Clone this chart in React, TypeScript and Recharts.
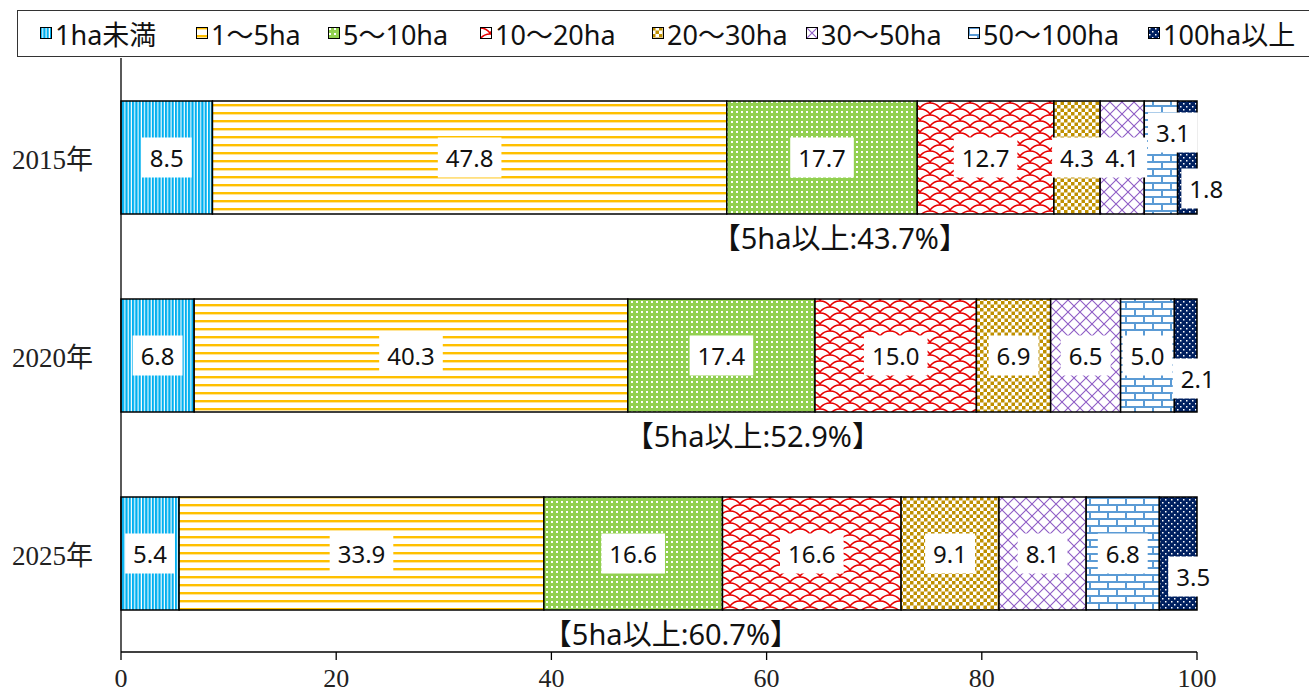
import React from 'react';
import { BarChart, Bar, XAxis, YAxis, Legend, LabelList } from 'recharts';

// Farm size distribution (share of farms, %) by year
const years = ['2015年', '2020年', '2025年'];
const sizeClasses = ['1ha未満', '1～5ha', '5～10ha', '10～20ha', '20～30ha', '30～50ha', '50～100ha', '100ha以上'];
const share2015 = [8.5, 47.8, 17.7, 12.7, 4.3, 4.1, 3.1, 1.8];
const share2020 = [6.8, 40.3, 17.4, 15.0, 6.9, 6.5, 5.0, 2.1];
const share2025 = [5.4, 33.9, 16.6, 16.6, 9.1, 8.1, 6.8, 3.5];
const xTicks = [0, 20, 40, 60, 80, 100];

const shares = [share2015, share2020, share2025];
const keys = sizeClasses.map((_, i) => `s${i}`);
const rows = years.map((year, r) => {
  const row: Record<string, any> = { year };
  keys.forEach((k, i) => (row[k] = shares[r][i]));
  return row;
});
// share of 5ha and larger (classes from 5～10ha upward)
const over5ha = shares.map((s) => s.slice(2).reduce((a, b) => a + b, 0));

const patternIds = keys.map((k) => `pat-${k}`);

// label nudges for narrow segments: "series-row" -> [dx, dy]
const labelNudge: Record<string, [number, number]> = {
  '6-0': [12, -25],
  '7-0': [19, 31],
  '7-1': [12, 23],
  '7-2': [15, 23],
};
const noteDx = [-15, -3, -1];

const W = 1309;
const H = 693;
const sansFont = "'Noto Sans', 'Noto Sans CJK JP', sans-serif";
const serifFont = "'Liberation Serif', 'Noto Sans CJK JP', serif";

function Patterns() {
  return (
    <defs>
      <pattern id={patternIds[0]} width="3.3" height="10" patternUnits="userSpaceOnUse">
        <rect width="3.3" height="10" fill="#fff" />
        <rect width="2.2" height="10" fill="#00B0F0" />
      </pattern>
      <pattern id={patternIds[1]} width="10" height="8" patternUnits="userSpaceOnUse">
        <rect width="10" height="8" fill="#fff" />
        <rect y="0" width="10" height="2.4" fill="#FFC000" />
      </pattern>
      <pattern id={patternIds[2]} width="5" height="5" patternUnits="userSpaceOnUse">
        <rect width="5" height="5" fill="#92D050" />
        <rect x="1" y="1" width="2" height="2" fill="#fff" />
      </pattern>
      <pattern id={patternIds[3]} width="20" height="12" patternUnits="userSpaceOnUse">
        <rect width="20" height="12" fill="#fff" />
        <path
          d="M0,12 A12.5,12.5 0 0 1 20,12 M-10,6 A12.5,12.5 0 0 1 10,6 M10,6 A12.5,12.5 0 0 1 30,6 M0,0 A12.5,12.5 0 0 1 20,0"
          fill="none"
          stroke="#E80000"
          strokeWidth="1.5"
        />
      </pattern>
      <pattern id={patternIds[4]} width="7" height="7" patternUnits="userSpaceOnUse">
        <rect width="7" height="7" fill="#fff" />
        <rect x="0" y="0" width="3.5" height="3.5" fill="#BF9000" />
        <rect x="3.5" y="3.5" width="3.5" height="3.5" fill="#BF9000" />
      </pattern>
      <pattern id={patternIds[5]} width="12" height="12" patternUnits="userSpaceOnUse">
        <rect width="12" height="12" fill="#fff" />
        <path d="M0,0 L12,12 M12,0 L0,12" stroke="#8E5CC6" strokeWidth="1.1" />
      </pattern>
      <pattern id={patternIds[6]} width="18" height="14" patternUnits="userSpaceOnUse">
        <rect width="18" height="14" fill="#fff" />
        <path d="M0,1 H18 M0,8 H18 M1,1 V8 M10,8 V14" stroke="#5B9BD5" strokeWidth="2" />
      </pattern>
      <pattern id={patternIds[7]} width="6" height="6" patternUnits="userSpaceOnUse">
        <rect width="6" height="6" fill="#002060" />
        <rect x="1" y="1" width="1.5" height="1.5" fill="#fff" />
        <rect x="4" y="4" width="1.5" height="1.5" fill="#fff" />
      </pattern>
    </defs>
  );
}

const legendX = [40, 196, 328, 480, 652, 806, 968, 1148];

function LegendBox() {
  return (
    <div
      style={{
        position: 'relative',
        width: W - 17 + 2,
        height: 47,
        border: '1.5px solid #333',
        boxSizing: 'border-box',
        background: '#fff',
        fontFamily: sansFont,
        fontSize: 27,
        color: '#111',
      }}
    >
      {sizeClasses.map((name, i) => (
        <div
          key={name}
          style={{ position: 'absolute', left: legendX[i] - 18, top: 3, display: 'flex', alignItems: 'center', height: 38, whiteSpace: 'nowrap' }}
        >
          <svg width="12" height="12" style={{ marginRight: 3 }}>
            <rect x="0.5" y="0.5" width="11" height="11" fill={`url(#${patternIds[i]})`} stroke="#000" strokeWidth="1" />
          </svg>
          <span>{name}</span>
        </div>
      ))}
    </div>
  );
}

const makeLabel = (s: number) => (props: any) => {
  const { x, y, width, height, value, index } = props;
  const [dx, dy] = labelNudge[`${s}-${index}`] ?? [0, 0];
  const text = Number(value).toFixed(1);
  const cx = Number(x) + Number(width) / 2 + dx;
  const cy = Number(y) + Number(height) / 2 + dy;
  const digits = text.replace('.', '').length;
  const bw = digits * 13.7 + 6.5 + 16;
  const bh = 40;
  return (
    <g>
      <rect x={cx - bw / 2} y={cy - bh / 2} width={bw} height={bh} fill="#fff" />
      <text x={cx} y={cy} textAnchor="middle" dominantBaseline="central" fontFamily={sansFont} fontSize={24} fill="#111">
        {text}
      </text>
    </g>
  );
};

const noteLabel = (props: any) => {
  const { x, y, height, index } = props;
  const tx = Number(x) + noteDx[index];
  const ty = Number(y) + Number(height) + 23;
  return (
    <text x={tx} y={ty} dominantBaseline="central" fontFamily={sansFont} fontSize={29} fill="#111">
      {`【5ha以上:${over5ha[index].toFixed(1)}%】`}
    </text>
  );
};

const YTick = (props: any) => {
  const { x, y, payload } = props;
  return (
    <text x={Number(x) - 20} y={Number(y) + 3} textAnchor="end" dominantBaseline="central" fontFamily={serifFont} fontSize={27} fill="#222">
      {payload.value}
    </text>
  );
};

const XTick = (props: any) => {
  const { x, y, payload } = props;
  return (
    <text x={x} y={Number(y) + 16} textAnchor="middle" dominantBaseline="central" fontFamily={serifFont} fontSize={26} fill="#222">
      {payload.value}
    </text>
  );
};

export default function App() {
  return (
    <div style={{ position: 'absolute', left: 0, top: 0, width: W, height: H, background: '#fff' }}>
      <BarChart
        width={W}
        height={H}
        data={rows}
        layout="vertical"
        margin={{ top: 11, right: 112, bottom: 0, left: 0 }}
        barSize={113}
      >
        <Patterns />
        <Legend verticalAlign="top" align="left" content={() => <LegendBox />} wrapperStyle={{ left: 17, top: 10 }} />
        <XAxis
          type="number"
          domain={[0, 100]}
          ticks={xTicks}
          height={41}
          tickSize={8}
          axisLine={{ stroke: '#000', strokeWidth: 1.3 }}
          tickLine={{ stroke: '#000', strokeWidth: 1.3 }}
          tick={<XTick />}
        />
        <YAxis
          type="category"
          dataKey="year"
          width={121}
          tickLine={false}
          axisLine={{ stroke: '#000', strokeWidth: 1.3 }}
          tick={<YTick />}
        />
        {keys.map((k, i) => (
          <Bar
            key={k}
            dataKey={k}
            name={sizeClasses[i]}
            stackId="farm"
            fill={`url(#${patternIds[i]})`}
            stroke="#000"
            strokeWidth={1.5}
            isAnimationActive={false}
          >
            <LabelList dataKey={k} content={makeLabel(i)} />
            {i === 2 ? <LabelList dataKey={k} content={noteLabel} /> : null}
          </Bar>
        ))}
      </BarChart>
    </div>
  );
}
